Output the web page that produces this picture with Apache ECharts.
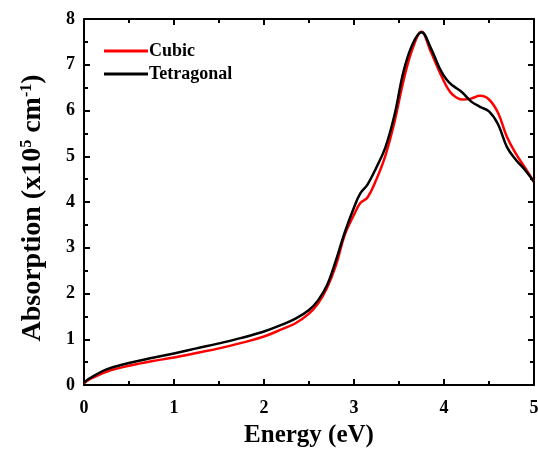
<!DOCTYPE html>
<html><head><meta charset="utf-8">
<script src="https://cdn.jsdelivr.net/npm/echarts@6/dist/echarts.min.js"></script>
<style>html,body{margin:0;padding:0;background:#fff}#c{width:538px;height:450px}</style>
</head><body><div id="c"></div>
<script>
const energy =     [0, 0.05, 0.1, 0.25, 0.5, 0.75, 1.0, 1.25, 1.5, 1.75, 2.0, 2.2, 2.35, 2.5, 2.6, 2.7, 2.8, 2.9, 3.0, 3.07, 3.15, 3.25, 3.35, 3.45, 3.55, 3.65, 3.75, 3.85, 3.95, 4.03, 4.1, 4.2, 4.3, 4.4, 4.5, 4.6, 4.7, 4.8, 4.9, 5.0];
const cubic =      [0.04, 0.11, 0.16, 0.29, 0.42, 0.52, 0.60, 0.70, 0.80, 0.92, 1.06, 1.22, 1.35, 1.56, 1.78, 2.12, 2.62, 3.30, 3.72, 3.98, 4.10, 4.50, 5.02, 5.75, 6.65, 7.35, 7.72, 7.30, 6.85, 6.52, 6.34, 6.24, 6.26, 6.32, 6.24, 5.95, 5.42, 5.05, 4.75, 4.44];
const tetragonal = [0.05, 0.13, 0.19, 0.34, 0.48, 0.59, 0.69, 0.80, 0.91, 1.03, 1.17, 1.32, 1.45, 1.64, 1.85, 2.18, 2.73, 3.35, 3.88, 4.19, 4.38, 4.76, 5.20, 5.90, 6.85, 7.45, 7.71, 7.38, 6.93, 6.67, 6.54, 6.40, 6.20, 6.08, 5.98, 5.70, 5.20, 4.92, 4.70, 4.44];
const xTicks = [0, 1, 2, 3, 4, 5];
const yTicks = [0, 1, 2, 3, 4, 5, 6, 7, 8];

const F = '"Liberation Serif", "DejaVu Serif", serif';
const pairs = (ys) => energy.map((x, i) => [x, ys[i]]);
const axisBase = {
  axisLine: {show: true, onZero: false, lineStyle: {color: '#000', width: 2}},
  axisTick: {show: true, inside: true, length: 6, lineStyle: {color: '#000', width: 2}},
  minorTick: {show: true, splitNumber: 2, length: 4, lineStyle: {color: '#000', width: 2}},
  splitLine: {show: false}
};
const chart = echarts.init(document.getElementById('c'));
chart.setOption({
  animation: false,
  backgroundColor: '#fff',
  grid: {left: 84, right: 4, top: 19, bottom: 65, containLabel: false, outerBoundsMode: 'none'},
  legend: {
    left: 99, top: 37, orient: 'vertical', itemGap: 5,
    icon: 'rect', itemWidth: 44, itemHeight: 3,
    textStyle: {fontFamily: F, fontWeight: 'bold', fontSize: 18, color: '#000', padding: [0, 0, 0, -4]},
    data: ['Cubic', 'Tetragonal']
  },
  xAxis: [
    Object.assign({}, axisBase, {
      type: 'value', min: xTicks[0], max: xTicks[xTicks.length - 1], interval: 1, position: 'bottom',
      axisLabel: {fontFamily: F, fontWeight: 'bold', fontSize: 18, color: '#000', margin: 14},
      name: 'Energy (eV)', nameLocation: 'middle', nameGap: 38,
      nameTextStyle: {fontFamily: F, fontWeight: 'bold', fontSize: 25, color: '#000'}
    }),
    Object.assign({}, axisBase, {
      type: 'value', min: 0, max: 5, interval: 1, position: 'top', axisLabel: {show: false}
    })
  ],
  yAxis: [
    Object.assign({}, axisBase, {
      type: 'value', min: yTicks[0], max: yTicks[yTicks.length - 1], interval: 1, position: 'left',
      axisLabel: {fontFamily: F, fontWeight: 'bold', fontSize: 18, color: '#000', margin: 9},
      name: '{a|Absorption (x10}{s|5}{a| cm}{s|-1}{a|)}', nameLocation: 'middle', nameGap: 37,
      nameTextStyle: {
        padding: [0, 12, 0, 0],
        rich: {
          a: {fontFamily: F, fontWeight: 'bold', fontSize: 28, color: '#000'},
          s: {fontFamily: F, fontWeight: 'bold', fontSize: 16, color: '#000', verticalAlign: 'top', padding: [0, 0, 12, 0]}
        }
      }
    }),
    Object.assign({}, axisBase, {
      type: 'value', min: 0, max: 8, interval: 1, position: 'right', axisLabel: {show: false}
    })
  ],
  series: [
    {name: 'Cubic', type: 'line', data: pairs(cubic), smooth: 0.4, showSymbol: false,
     lineStyle: {color: '#ff0000', width: 2.5}, itemStyle: {color: '#ff0000'}},
    {name: 'Tetragonal', type: 'line', data: pairs(tetragonal), smooth: 0.4, showSymbol: false,
     lineStyle: {color: '#000', width: 2.5}, itemStyle: {color: '#000'}}
  ]
});
</script></body></html>
